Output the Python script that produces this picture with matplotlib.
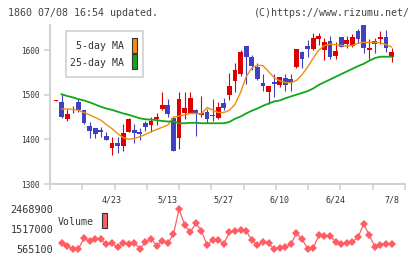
import matplotlib
matplotlib.use("Agg")
import matplotlib.pyplot as plt
import numpy as np
from matplotlib.patches import Rectangle

UP, DOWN = "#dd0000", "#4040c0"
MA5_C, MA25_C, VOL_C = "#f08c10", "#10a818", "#ff5c64"
AXC, INK = "#d0d0d0", "#333333"
MONO = "DejaVu Sans Mono"

# daily candles (61 sessions, last = 7/8)
OPEN = [1486, 1484, 1445, 1467, 1483, 1465, 1430, 1425, 1420, 1407,
        1381, 1392, 1384, 1417, 1421, 1417, 1437, 1433, 1446, 1469,
        1478, 1448, 1402, 1460, 1460, 1466, 1454, 1462, 1455, 1448,
        1481, 1499, 1531, 1547, 1609, 1584, 1563, 1526, 1507, 1529,
        1522, 1537, 1536, 1561, 1596, 1610, 1603, 1624, 1600, 1620,
        1587, 1629, 1613, 1609, 1643, 1656, 1600, 1620, 1625, 1629, 1585]
HIGH = [1487, 1501, 1469, 1475, 1492, 1466, 1438, 1426, 1427, 1416,
        1406, 1406, 1434, 1447, 1434, 1425, 1441, 1451, 1458, 1505,
        1490, 1450, 1507, 1506, 1506, 1468, 1496, 1468, 1490, 1483,
        1492, 1548, 1570, 1600, 1610, 1588, 1570, 1546, 1520, 1547,
        1540, 1546, 1546, 1603, 1597, 1622, 1638, 1639, 1626, 1631,
        1619, 1630, 1631, 1635, 1648, 1656, 1625, 1628, 1643, 1645, 1604]
LOW = [1485, 1448, 1440, 1460, 1462, 1434, 1404, 1402, 1405, 1398,
       1366, 1370, 1375, 1416, 1392, 1398, 1419, 1417, 1432, 1465,
       1451, 1373, 1379, 1446, 1458, 1408, 1450, 1437, 1441, 1446,
       1466, 1488, 1507, 1542, 1525, 1555, 1533, 1509, 1479, 1495,
       1518, 1509, 1509, 1560, 1559, 1584, 1600, 1611, 1578, 1579,
       1579, 1606, 1604, 1606, 1616, 1594, 1579, 1593, 1613, 1596, 1574]
CLOSE = [1486, 1450, 1457, 1469, 1465, 1436, 1419, 1413, 1416, 1399,
         1392, 1384, 1415, 1446, 1415, 1411, 1428, 1442, 1450, 1478,
         1456, 1374, 1490, 1471, 1493, 1458, 1458, 1446, 1453, 1472,
         1471, 1519, 1555, 1596, 1584, 1565, 1536, 1520, 1519, 1524,
         1539, 1522, 1527, 1602, 1580, 1602, 1628, 1631, 1617, 1585,
         1598, 1607, 1622, 1630, 1625, 1605, 1604, 1613, 1629, 1604, 1596]

# moving averages as drawn (first session has none)
MA5 = [np.nan, 1468, 1468, 1467, 1465, 1460, 1455, 1449, 1443, 1433,
       1424, 1413, 1404, 1400, 1402, 1406, 1411, 1417, 1422, 1427,
       1432, 1450, 1452, 1455, 1458, 1458, 1457, 1471, 1466, 1460,
       1460, 1465, 1478, 1505, 1540, 1560, 1566, 1565, 1552, 1538,
       1531, 1527, 1527, 1532, 1545, 1562, 1582, 1600, 1610, 1613,
       1612, 1610, 1609, 1610, 1615, 1617, 1617, 1617, 1616, 1612, 1607]
MA25 = [np.nan, 1501, 1497, 1494, 1490, 1487, 1483, 1478, 1473, 1469,
        1466, 1462, 1458, 1455, 1451, 1447, 1445, 1444, 1443, 1441,
        1440, 1440, 1436, 1436, 1437, 1437, 1436, 1436, 1436, 1436,
        1436, 1439, 1446, 1451, 1458, 1464, 1469, 1475, 1480, 1485,
        1487, 1492, 1496, 1500, 1504, 1508, 1514, 1522, 1528, 1534,
        1540, 1546, 1552, 1558, 1564, 1569, 1576, 1582, 1585, 1585, 1585]

# volume for sessions 1..60
VOLUME = [850700, 723800, 590000, 580000, 1088600, 945900, 1056900, 1056900,
          803100, 850700, 660300, 882400, 818900, 882400, 590000, 914100,
          1072800, 739600, 961700, 850700, 1295000, 2468900, 1723300,
          1374200, 1802600, 1453500, 771300, 1009300, 1009300, 834800,
          1374200, 1437700, 1469400, 1437700, 1009300, 771300, 898300,
          850700, 565100, 644400, 660300, 803100, 1326600, 1041000, 596800,
          628600, 1231400, 1215600, 1199700, 930000, 818900, 850700, 930000,
          1136200, 1770800, 1247300, 692000, 771300, 834800, 803100]
VOL_TICKS = [565100, 1517000, 2468900]

DATE_POS = [10, 20, 30, 40, 50, 60]
DATE_LABELS = ["4/23", "5/13", "5/27", "6/10", "6/24", "7/8"]
PRICE_TICKS = [1300, 1400, 1500, 1600]

W, H = 420, 259
XLIM = (-1.073, 62.40)

fig = plt.figure(figsize=(W / 100, H / 100), dpi=100)
fig.patch.set_facecolor("white")

# ---- price panel -----------------------------------------------------------
ax = fig.add_axes([50 / W, 75 / H, 355 / W, 159 / H])
days = np.arange(len(OPEN))
o, hi, lo, c = map(np.array, (OPEN, HIGH, LOW, CLOSE))
cols = [UP if cc >= oo else DOWN for oo, cc in zip(o, c)]
ax.vlines(days, lo, hi, colors=cols, lw=0.8, zorder=2)
ax.bar(days, np.maximum(np.abs(c - o), 1.6), bottom=np.minimum(o, c),
       width=0.86, color=cols, lw=0, zorder=3)
ax.plot(days, MA5, color=MA5_C, lw=1.0, zorder=4)
ax.plot(days, MA25, color=MA25_C, lw=1.3, zorder=4)

ax.set_xlim(*XLIM)
ax.set_ylim(1300, 1656)
for s in ("top", "right"):
    ax.spines[s].set_visible(False)
for s in ("left", "bottom"):
    ax.spines[s].set_color(AXC)
    ax.spines[s].set_linewidth(1.4)
ax.set_yticks(PRICE_TICKS)
ax.tick_params(axis="y", length=4.3, width=1.1, color=AXC, pad=3.4,
               labelsize=5.6, labelcolor=INK)
ax.set_xticks(np.linspace(*XLIM, 12))
ax.tick_params(axis="x", which="major", length=4.3, width=1.1, color=AXC,
               labelbottom=False)
ax.set_xticks(DATE_POS, DATE_LABELS, minor=True)
ax.tick_params(axis="x", which="minor", length=0, pad=8.0, labelsize=6,
               labelcolor=INK)
for t in ax.get_xticklabels(minor=True) + ax.get_yticklabels():
    t.set_family(MONO)

# ---- volume panel ----------------------------------------------------------
av = fig.add_axes([50 / W, 6 / H, 355 / W, 48 / H])
av.plot(days[1:], VOLUME, color=VOL_C, lw=0.9, marker="D", ms=3.6,
        markeredgewidth=0)
av.set_xlim(*XLIM)
av.set_ylim(389000, 2673600)
for s in av.spines.values():
    s.set_visible(False)
av.set_xticks([])
av.set_yticks(VOL_TICKS, [str(v) for v in VOL_TICKS])
av.tick_params(axis="y", length=0, pad=-2.4, labelsize=7.3, labelcolor=INK)
for t in av.get_yticklabels():
    t.set_family(MONO)
av.patch.set_alpha(0)

# ---- legends & header ------------------------------------------------------
def fx(px):
    return px / W


def fy(py):
    return 1 - py / H


fig.patches.append(Rectangle((fx(65.7), fy(76.7)), fx(77.6), 46 / H,
                             transform=fig.transFigure, facecolor="white",
                             edgecolor="#cccccc", lw=1.1, zorder=5))
for label, col, ytxt, ytop in (("5-day MA", MA5_C, 46, 37.7),
                                ("25-day MA", MA25_C, 62.5, 54.0)):
    fig.text(fx(124.5), fy(ytxt), label, ha="right", va="center",
             family=MONO, fontsize=7.1, color=INK, zorder=6)
    fig.patches.append(Rectangle((fx(131.7), fy(ytop + 14.8)), fx(5.6),
                                 14.8 / H, transform=fig.transFigure,
                                 facecolor=col, edgecolor=INK, lw=0.8,
                                 zorder=6))

fig.text(fx(58), fy(221.7), "Volume", ha="left", va="center", family=MONO,
         fontsize=7.1, color=INK)
fig.patches.append(Rectangle((fx(101.7), fy(228)), fx(5.6), 15 / H,
                             transform=fig.transFigure, facecolor=VOL_C,
                             edgecolor=INK, lw=0.8))

fig.text(fx(8), fy(12.5), "1860 07/08 16:54 updated.", ha="left",
         va="center", family=MONO, fontsize=7.2, color="#444444")
fig.text(fx(410), fy(12.5), "(C)https://www.rizumu.net/", ha="right",
         va="center", family=MONO, fontsize=7.2, color="#444444")

fig.savefig("out.png", dpi=100, facecolor="white")
